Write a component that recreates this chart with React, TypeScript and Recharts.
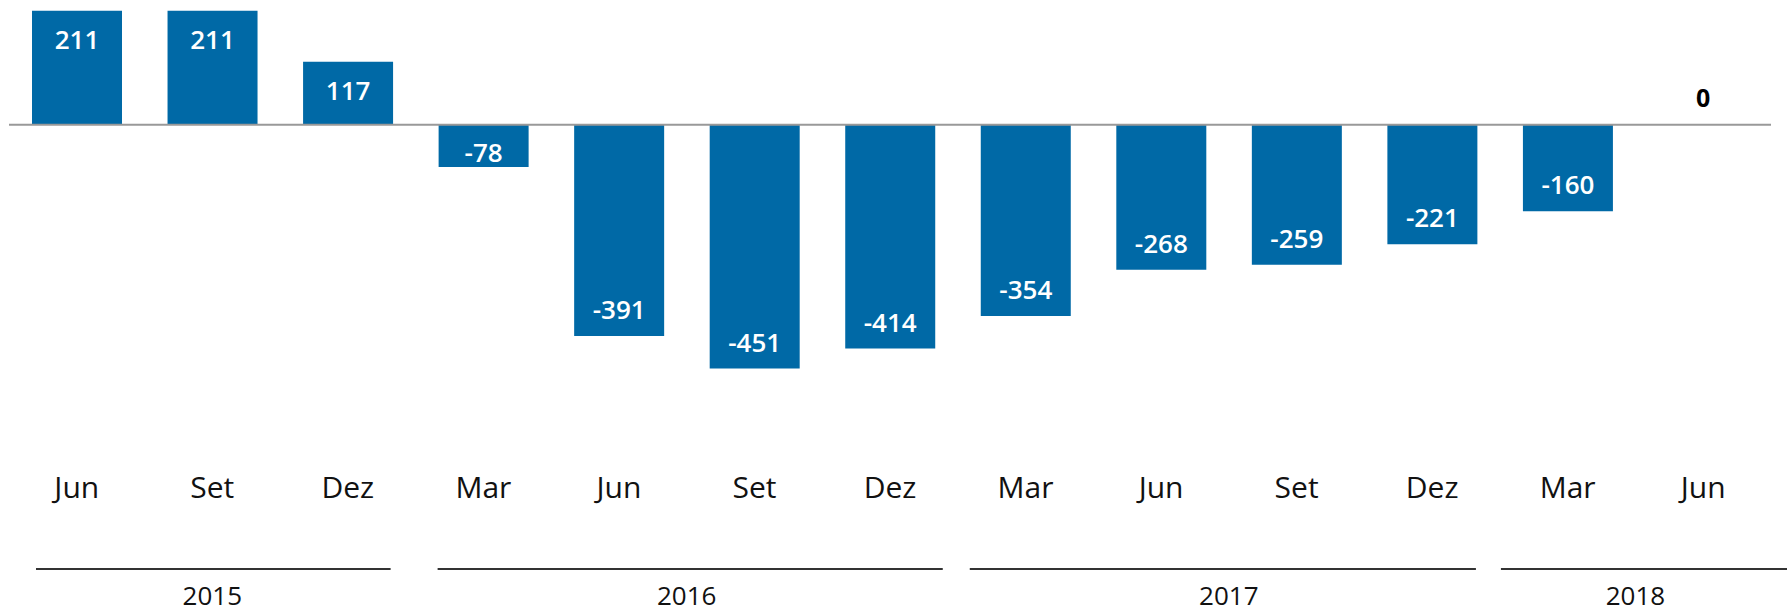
import { BarChart, Bar, XAxis, YAxis, ReferenceLine, ReferenceDot, LabelList } from "recharts";

// Trimestres (mês) e ano de cada barra
const months = ["Jun", "Set", "Dez", "Mar", "Jun", "Set", "Dez", "Mar", "Jun", "Set", "Dez", "Mar", "Jun"];
const years = [2015, 2015, 2015, 2016, 2016, 2016, 2016, 2017, 2017, 2017, 2017, 2018, 2018];
const values = [211, 211, 117, -78, -391, -451, -414, -354, -268, -259, -221, -160, 0];

const chartData = months.map((m, i) => ({
  key: `${m} ${years[i]}`,
  month: m,
  year: years[i],
  value: values[i],
}));

const CHART_W = 1787;
const CHART_H = 613;
const MARGIN = { top: 6, right: 16, left: 9, bottom: 0 };
const BAND = (CHART_W - MARGIN.left - MARGIN.right) / months.length;

// recuo das linhas de ano (esquerda, direita), só estilo
const YEAR_LINE_INSET: Record<number, [number, number]> = {
  2015: [27, 25],
  2016: [22, 15],
  2017: [12, 24],
  2018: [1, -16],
};

const FONT = "'Open Sans', 'DejaVu Sans', sans-serif";
const BLUE = "#0069A6";

const MonthTick = (props: any) => {
  const { x, y, index } = props;
  const d = chartData[index];
  if (!d) return null;
  const first = index === 0 || chartData[index - 1].year !== d.year;
  let group = null;
  if (first) {
    const count = chartData.filter((c) => c.year === d.year).length;
    const start = x - BAND / 2;
    const end = start + count * BAND;
    const [li, ri] = YEAR_LINE_INSET[d.year] || [20, 20];
    group = (
      <g>
        <line x1={start + li} x2={end - ri} y1={y + 120} y2={y + 120} stroke="#333" strokeWidth={2} />
        <text
          x={(start + end) / 2}
          y={y + 156}
          textAnchor="middle"
          fontFamily={FONT}
          fontSize={26}
          fill="#111"
        >
          {d.year}
        </text>
      </g>
    );
  }
  return (
    <g>
      <text x={x} y={y + 49} textAnchor="middle" fontFamily={FONT} fontSize={30} fill="#111">
        {d.month}
      </text>
      {group}
    </g>
  );
};

const ValueLabel = (props: any) => {
  const { x, y, width, height, value } = props;
  if (value === 0 || value == null) return null;
  const cx = x + width / 2;
  const top = Math.min(y, y + height);
  const bottom = Math.max(y, y + height);
  const h = bottom - top;
  let baseline;
  if (value > 0) baseline = top + 38;
  else baseline = h < 60 ? bottom - 5 : bottom - 17;
  return (
    <text x={cx} y={baseline} textAnchor="middle" fontFamily={FONT} fontSize={26} fontWeight={600} fill="#fff">
      {value}
    </text>
  );
};

const ZeroLabel = (props: any) => {
  const { viewBox } = props;
  const cx = viewBox.x + viewBox.width / 2;
  const cy = viewBox.y + viewBox.height / 2;
  return (
    <text x={cx} y={cy - 18} textAnchor="middle" fontFamily={FONT} fontSize={25} fontWeight={700} fill="#000">
      0
    </text>
  );
};

export default function App() {
  return (
    <div style={{ position: "absolute", left: 0, top: 0, background: "#fff" }}>
      <BarChart width={CHART_W} height={CHART_H} data={chartData} margin={MARGIN} barCategoryGap={0}>
        <XAxis
          dataKey="key"
          interval={0}
          axisLine={false}
          tickLine={false}
          tickSize={0}
          tickMargin={0}
          height={164}
          tick={<MonthTick />}
        />
        <YAxis hide domain={[-600, 220]} />
        <Bar dataKey="value" fill={BLUE} barSize={90} isAnimationActive={false}>
          <LabelList dataKey="value" content={<ValueLabel />} />
        </Bar>
        <ReferenceLine y={0} stroke="#999" strokeWidth={2} />
        {chartData
          .filter((d) => d.value === 0)
          .map((d) => (
            <ReferenceDot
              key={d.key}
              x={d.key}
              y={d.value}
              r={1}
              fill="none"
              stroke="none"
              label={<ZeroLabel />}
            />
          ))}
      </BarChart>
    </div>
  );
}
